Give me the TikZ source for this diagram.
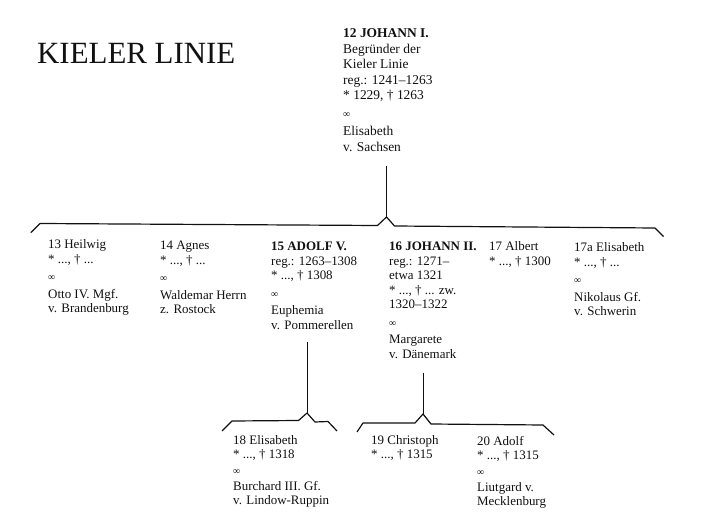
\documentclass[tikz,border=0pt]{standalone}
\usepackage{fontspec}
\setmainfont{Liberation Serif}
\newcommand\pbox[1]{\begin{tabular}[t]{@{}l@{}}#1\end{tabular}}
\newcommand\marr{{\fontsize{10}{10}\selectfont ∞}}
\newcommand\geb{*}
\definecolor{ink}{HTML}{111111}
\begin{document}
\begin{tikzpicture}[x=1bp,y=-1bp,
  person/.style={anchor=base west, inner sep=0pt, text=ink,
    font=\fontsize{13}{14.5}\selectfont},
  toperson/.style={anchor=base west, inner sep=0pt, text=ink,
    font=\fontsize{13.5}{15.5}\selectfont},
  bracket/.style={draw=ink, line width=1.2pt, line join=round},
  vline/.style={draw=ink, line width=0.8pt}]
\useasboundingbox (0,0) rectangle (719,527);
\fill[white] (0,0) rectangle (719,527);

\node[anchor=base west, inner sep=0pt, text=ink, font=\fontsize{31}{31}\selectfont] (title) at (37,64) {KIELER LINIE};

\node[toperson] (n12) at (343,38) {\pbox{\textbf{12 JOHANN I.}\\Begründer der\\Kieler Linie\\reg.: 1241–1263\\\geb{} 1229, † 1263\\[2.5pt]\marr\\[2.5pt]Elisabeth\\v. Sachsen}};

\node[person] (n13) at (48,249) {\pbox{13 Heilwig\\\geb{} ..., † ...\\[3pt]\marr\\[3pt]Otto IV. Mgf.\\v. Brandenburg}};
\node[person] (n14) at (160,250) {\pbox{14 Agnes\\\geb{} ..., † ...\\[3pt]\marr\\[3pt]Waldemar Herrn\\z. Rostock}};
\node[person] (n15) at (271,251) {\pbox{\textbf{15 ADOLF V.}\\reg.: 1263–1308\\\geb{} ..., † 1308\\[3pt]\marr\\[3pt]Euphemia\\v. Pommerellen}};
\node[person] (n16) at (389,251) {\pbox{\textbf{16 JOHANN II.}\\reg.: 1271–\\etwa 1321\\\geb{} ..., † ... zw.\\1320–1322\\[3pt]\marr\\[3pt]Margarete\\v. Dänemark}};
\node[person] (n17) at (489,251) {\pbox{17 Albert\\\geb{} ..., † 1300}};
\node[person] (n17a) at (574,252) {\pbox{17a Elisabeth\\\geb{} ..., † ...\\[3pt]\marr\\[3pt]Nikolaus Gf.\\v. Schwerin}};

\node[person] (n18) at (233,444) {\pbox{18 Elisabeth\\\geb{} ..., † 1318\\[1.5pt]\marr\\[1.5pt]Burchard III. Gf.\\v. Lindow-Ruppin}};
\node[person] (n19) at (371,444) {\pbox{19 Christoph\\\geb{} ..., † 1315}};
\node[person] (n20) at (477,445) {\pbox{20 Adolf\\\geb{} ..., † 1315\\[1.5pt]\marr\\[1.5pt]Liutgard v.\\Mecklenburg}};

% main bracket
\coordinate (a0) at (30.7,232.7);
\coordinate (a1) at (40,223.5);
\coordinate (a2) at (377.5,225.5);
\coordinate (ak) at (386.5,217);
\coordinate (a3) at (394.5,226);
\coordinate (a4) at (655,228);
\coordinate (a5) at (663.5,236.5);
\draw[bracket] (a0) -- (a1) -- (a2) -- (ak) -- (a3) -- (a4) -- (a5);
\draw[vline] (n12.south -| ak) ++(0,10) -- (ak);

% bracket of Adolf V.
\coordinate (b0) at (222,431);
\coordinate (b1) at (232,421);
\coordinate (b2) at (298.5,420.5);
\coordinate (bk) at (307,413);
\coordinate (b3) at (315,422);
\coordinate (b4) at (328,421.5);
\coordinate (b5) at (337,431);
\draw[bracket] (b0) -- (b1) -- (b2) -- (bk) -- (b3) -- (b4) -- (b5);
\draw[vline] (n15.south -| bk) ++(0,8) -- (bk);

% bracket of Johann II.
\coordinate (c0) at (357,432);
\coordinate (c1) at (363,423);
\coordinate (c2) at (415,423);
\coordinate (ck) at (423,414);
\coordinate (c3) at (431,424);
\coordinate (c4) at (543,425);
\coordinate (c5) at (554,435);
\draw[bracket] (c0) -- (c1) -- (c2) -- (ck) -- (c3) -- (c4) -- (c5);
\draw[vline] (n16.south -| ck) ++(0,10) -- (ck);
\end{tikzpicture}
\end{document}
